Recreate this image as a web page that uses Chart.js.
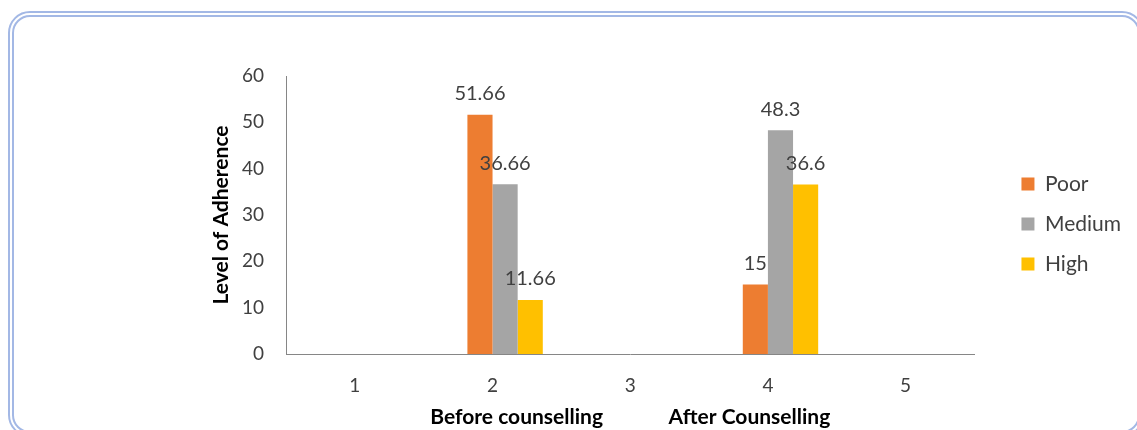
<!DOCTYPE html>
<html>
<head>
<meta charset="utf-8">
<script src="https://cdn.jsdelivr.net/npm/chart.js@4"></script>
<style>
  html, body { margin: 0; padding: 0; background: #fff; overflow: hidden; }
  #frame {
    position: absolute; left: 8px; top: 11px;
    width: 1124px; height: 414px;
    border: 6px double #a3b8e5; border-radius: 22px;
  }
  #wrap { position: absolute; left: 0; top: 0; width: 1137px; height: 430px; }
</style>
</head>
<body>
<div id="frame"></div>
<div id="wrap"><canvas id="myChart" width="1137" height="430"></canvas></div>
<script>
const categories = ["1", "2", "3", "4", "5"];
// the source chart has an empty first series, which shifts the bars right of the tick
const blankValues = [null, null, null, null, null];
const poorValues = [null, 51.66, null, 15, null];
const mediumValues = [null, 36.66, null, 48.3, null];
const highValues = [null, 11.66, null, 36.6, null];
const seriesNames = ["", "Poor", "Medium", "High"];
const seriesColors = ["rgba(0,0,0,0)", "#ED7D31", "#A5A5A5", "#FFC000"];
const yTicks = [0, 10, 20, 30, 40, 50, 60];
const xTitle = "Before counselling" + "\u00A0".repeat(13) + "After Counselling";
const yTitle = "Level of Adherence";

const textFont = "Lato, 'Open Sans', sans-serif";

// value labels above each bar
const barLabels = {
  id: "barLabels",
  afterDatasetsDraw(chart) {
    const ctx = chart.ctx;
    ctx.save();
    ctx.font = "20px " + textFont;
    ctx.fillStyle = "#404040";
    ctx.textAlign = "center";
    ctx.textBaseline = "middle";
    chart.data.datasets.forEach((ds, i) => {
      const meta = chart.getDatasetMeta(i);
      meta.data.forEach((bar, j) => {
        const v = ds.data[j];
        if (v === null || v === undefined) return;
        ctx.fillText(String(v), bar.x, bar.y - 21);
      });
    });
    ctx.restore();
  }
};

const ctx = document.getElementById("myChart").getContext("2d");
const myChart = new Chart(ctx, {
  type: "bar",
  data: {
    labels: categories,
    datasets: [blankValues, poorValues, mediumValues, highValues].map((vals, i) => ({
      label: seriesNames[i],
      data: vals,
      backgroundColor: seriesColors[i],
      borderWidth: 0,
      categoryPercentage: 0.73,
      barPercentage: 1.0,
    })),
  },
  options: {
    responsive: false,
    animation: false,
    layout: { padding: { top: 76, right: 6, bottom: 0, left: 0 } },
    plugins: {
      tooltip: { enabled: false },
      legend: {
        position: "right",
        fullSize: false,
        title: { display: true, text: "", font: { size: 10 }, padding: 3 },
        labels: {
          filter: (item) => item.text !== "",
          boxWidth: 13,
          boxHeight: 13,
          padding: 19,
          color: "#404040",
          font: { family: textFont, size: 21 },
        },
      },
    },
    scales: {
      x: {
        grid: { display: false, drawTicks: false },
        border: { color: "#868686", width: 1 },
        ticks: { color: "#404040", padding: 20, font: { family: textFont, size: 19 } },
        title: {
          display: true, text: xTitle, color: "#000",
          font: { family: textFont, size: 21, weight: "bold" },
          padding: { top: 0, bottom: 0 },
        },
        afterFit: (s) => { s.height = 76; },
      },
      y: {
        min: 0, max: 60,
        afterBuildTicks: (s) => { s.ticks = yTicks.map((v) => ({ value: v })); },
        grid: { display: false, drawTicks: false },
        border: { color: "#868686", width: 1 },
        ticks: { color: "#404040", padding: 22, font: { family: textFont, size: 19 } },
        title: {
          display: true, text: yTitle, color: "#000",
          font: { family: textFont, size: 21, weight: "bold" },
          padding: { top: 209, bottom: 0 },
        },
        afterFit: (s) => { s.width = 286; },
      },
      y2: {
        position: "right",
        display: true,
        grid: { display: false, drawTicks: false },
        border: { display: false },
        ticks: { display: false },
        afterFit: (s) => { s.width = 28; },
      },
    },
  },
  plugins: [barLabels],
});
</script>
</body>
</html>
